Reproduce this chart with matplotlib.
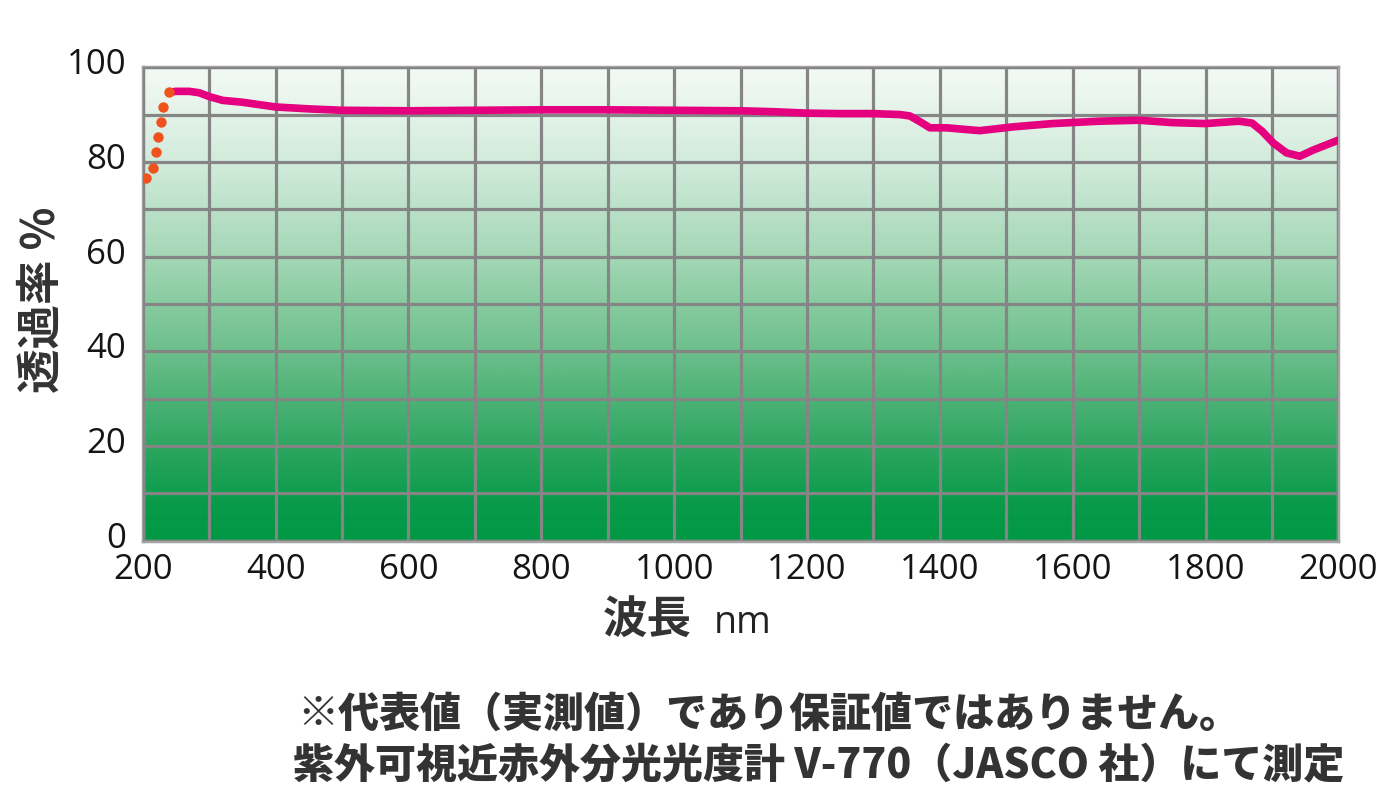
import numpy as np
import matplotlib
matplotlib.use("Agg")
import matplotlib.pyplot as plt
from matplotlib.colors import LinearSegmentedColormap
from matplotlib.transforms import ScaledTranslation

# ---- data ----
uv_wavelength = [205, 215, 220, 223, 227, 231, 239]
uv_transmittance = [76.5, 78.8, 82.1, 85.2, 88.4, 91.6, 94.7]

wavelength = [239, 250, 270, 285, 300, 320, 350, 380, 400, 450, 500, 600, 700,
              800, 900, 1000, 1100, 1150, 1200, 1250, 1300, 1340, 1355, 1370,
              1385, 1410, 1460, 1510, 1570, 1640, 1700, 1750, 1800, 1850, 1870,
              1885, 1902, 1922, 1942, 1962, 2000]
transmittance = [94.7, 94.9, 94.9, 94.6, 93.8, 93.0, 92.6, 92.0, 91.6, 91.2, 90.9,
                 90.8, 90.9, 91.0, 91.0, 90.9, 90.8, 90.6, 90.3, 90.2, 90.2, 90.0,
                 89.7, 88.5, 87.2, 87.2, 86.6, 87.4, 88.1, 88.6, 88.8, 88.3, 88.1,
                 88.6, 88.2, 86.5, 84.0, 81.9, 81.2, 82.5, 84.6]

x_ticks = [200, 400, 600, 800, 1000, 1200, 1400, 1600, 1800, 2000]
y_ticks = [0, 20, 40, 60, 80, 100]

y_label = "透過率 %"
x_label_main = "波長"
x_label_unit = "nm"
note_lines = ["※代表値（実測値）であり保証値ではありません。",
              "紫外可視近赤外分光光度計 V-770（JASCO 社）にて測定"]

# ---- style ----
plt.rcParams['font.family'] = ['Open Sans', 'Noto Sans CJK JP', 'DejaVu Sans']
cjk = ['Noto Sans CJK JP', 'DejaVu Sans']
text_color = '#333333'

fig = plt.figure(figsize=(14, 8), dpi=100)
ax = fig.add_axes([0.102, 0.324, 0.854, 0.592])

cmap = LinearSegmentedColormap.from_list(
    'grn', [(0.0, '#009844'), (0.08, '#0a9b4a'), (0.2, '#2ea661'),
            (0.4, '#6cbf8b'), (0.6, '#a4d7b6'), (0.8, '#d2ebdb'), (1.0, '#f4faf6')])
grad = np.linspace(0, 1, 256).reshape(-1, 1)
ax.imshow(grad, cmap=cmap, origin='lower', aspect='auto',
          extent=[200, 2000, 0, 100], zorder=0, interpolation='bicubic')

ax.set_xlim(200, 2000)
ax.set_ylim(0, 100)
ax.set_xticks(x_ticks)
ax.set_yticks(y_ticks)
ax.set_xticks(np.arange(200, 2001, 100), minor=True)
ax.set_yticks(np.arange(0, 101, 10), minor=True)
ax.grid(which='both', color='#858585', linewidth=2.3, zorder=1)
ax.set_axisbelow(False)
ax.tick_params(which='both', length=0)
ax.tick_params(axis='x', labelsize=25, pad=9, colors='#151515')
ax.tick_params(axis='y', labelsize=25, pad=12, colors='#151515')
for lab in ax.get_yticklabels():
    lab.set_transform(lab.get_transform() + ScaledTranslation(0, 0.06, fig.dpi_scale_trans))
for s in ax.spines.values():
    s.set_color('#a5a5a5')
    s.set_linewidth(2.5)

ax.plot(wavelength, transmittance, color='#e4007f', linewidth=5.5,
        solid_capstyle='round', solid_joinstyle='round', zorder=4)
ax.plot(uv_wavelength, uv_transmittance, linestyle='none', marker='o',
        markersize=7.5, color='#f0521e', markeredgewidth=0, zorder=5)

fig.text(0.030, 0.625, y_label, rotation=90, ha='center', va='center',
         fontsize=32, fontweight='bold', color=text_color, family=cjk)
fig.text(0.494, 0.225, x_label_main, ha='right', va='center',
         fontsize=32, fontweight='bold', color=text_color, family=cjk)
fig.text(0.510, 0.221, x_label_unit, ha='left', va='center',
         fontsize=27, color='#222222', family=['Open Sans', 'DejaVu Sans'])

fig.text(0.212, 0.106, note_lines[0], ha='left', va='center',
         fontsize=29.5, fontweight='black', color=text_color, family=cjk)
fig.text(0.209, 0.043, note_lines[1], ha='left', va='center',
         fontsize=29.5, fontweight='black', color=text_color, family=cjk)

fig.savefig('out.png', dpi=100, facecolor='white')
